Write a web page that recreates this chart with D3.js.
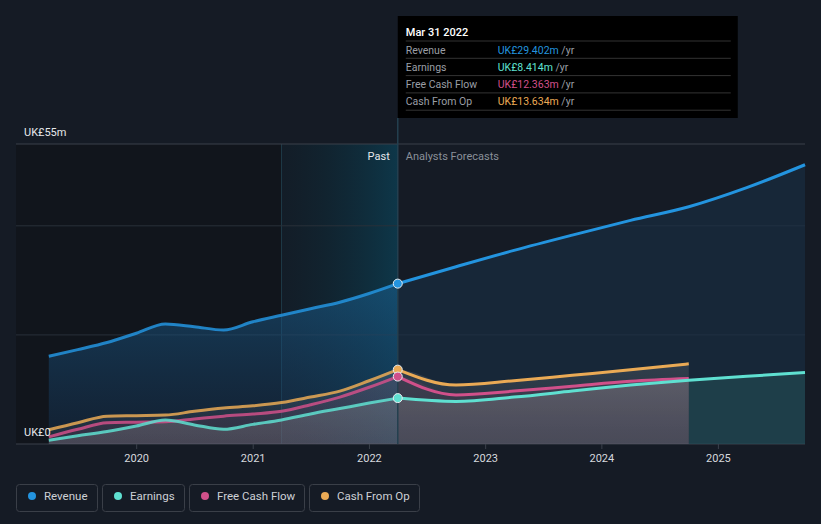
<!DOCTYPE html>
<html>
<head>
<meta charset="utf-8">
<script src="https://cdn.jsdelivr.net/npm/d3@7"></script>
<style>
  body { margin: 0; background: #151b25; }
  svg { display: block; font-family: Roboto, "Noto Sans", sans-serif; }
</style>
</head>
<body>
<div id="chart"></div>
<script>
// quarterly history (UK£m, trailing twelve months)
const pastDates = ["2019-03-31", "2019-06-30", "2019-09-30", "2019-12-31", "2020-03-31", "2020-06-30",
  "2020-09-30", "2020-12-31", "2021-03-31", "2021-06-30", "2021-09-30", "2021-12-31", "2022-03-31"];
const revenuePast = [16.1, 17.3, 18.6, 20.3, 22.0, 21.5, 20.9, 22.4, 23.6, 24.8, 26.0, 27.6, 29.402];
const earningsPast = [0.7, 1.5, 2.3, 3.3, 4.4, 3.5, 2.7, 3.6, 4.4, 5.5, 6.5, 7.5, 8.414];
const fcfPast = [1.3, 2.7, 3.9, 4.0, 4.1, 4.6, 5.1, 5.5, 6.0, 7.2, 8.6, 10.4, 12.363];
const cfoPast = [2.6, 3.9, 5.1, 5.2, 5.3, 6.0, 6.6, 7.0, 7.6, 8.6, 9.7, 11.6, 13.634];

// analyst forecasts
const forecastDates = ["2022-03-31", "2022-09-30", "2023-03-31", "2023-09-30", "2024-03-31",
  "2024-09-30", "2025-03-31", "2025-09-30"];
const revenueFc = [29.402, 32.5, 35.5, 38.3, 41.0, 43.5, 47.0, 51.2];
const earningsFc = [8.414, 7.8, 8.6, 9.7, 10.8, 11.7, 12.4, 13.1];
const fcfFc = [12.363, 9.0, 9.7, 10.6, 11.5, 12.0];
const cfoFc = [13.634, 10.8, 11.6, 12.6, 13.6, 14.7];

const yearTicks = ["2020", "2021", "2022", "2023", "2024", "2025"];
const yTickValues = [0, 20, 40, 55];

const width = 821;
const height = 524;
const parse = d3.timeParse("%Y-%m-%d");

const COLORS = {
  revenue: "#2394df",
  earnings: "#5fe0d1",
  fcf: "#d0508a",
  cfo: "#eaaa55"
};

const x = d3.scaleTime()
  .domain([new Date(2018, 11, 18), new Date(2025, 8, 30)])
  .range([16, 805]);
const y = d3.scaleLinear().domain([0, 55]).range([444, 144]);

const svg = d3.select("#chart").append("svg")
  .attr("width", width)
  .attr("height", height);

svg.append("rect").attr("width", width).attr("height", height).attr("fill", "#151b25");

const defs = svg.append("defs");

// band for the last year of history
const band = defs.append("linearGradient").attr("id", "band");
band.append("stop").attr("offset", "0%").attr("stop-color", "#0c2531").attr("stop-opacity", 0.2);
band.append("stop").attr("offset", "100%").attr("stop-color", "#0d3a4d").attr("stop-opacity", 0.9);

const revGrad = defs.append("linearGradient").attr("id", "revGrad")
  .attr("x1", 0).attr("x2", 0).attr("y1", 0).attr("y2", 1);
revGrad.append("stop").attr("offset", "0%").attr("stop-color", "#1a5f8f").attr("stop-opacity", 0.55);
revGrad.append("stop").attr("offset", "100%").attr("stop-color", "#16365a").attr("stop-opacity", 0.35);

const greyGrad = defs.append("linearGradient").attr("id", "greyGrad")
  .attr("x1", 0).attr("x2", 0).attr("y1", 0).attr("y2", 1);
greyGrad.append("stop").attr("offset", "0%").attr("stop-color", "#9a9a9a").attr("stop-opacity", 0.22);
greyGrad.append("stop").attr("offset", "100%").attr("stop-color", "#7a7a7a").attr("stop-opacity", 0.12);

const xNow = x(parse("2022-03-31"));
const xBand = x(parse("2021-03-31"));

// darker history area
svg.append("rect")
  .attr("x", 16).attr("y", y(55))
  .attr("width", xBand - 16).attr("height", y(0) - y(55))
  .attr("fill", "#11151c");

svg.append("rect")
  .attr("x", xBand).attr("y", y(55))
  .attr("width", xNow - xBand).attr("height", y(0) - y(55))
  .attr("fill", "url(#band)");

svg.append("line")
  .attr("x1", xBand).attr("x2", xBand).attr("y1", y(55)).attr("y2", y(0))
  .attr("stroke", "#1f3a48").attr("stroke-width", 1);

// gridlines
svg.append("g").selectAll("line")
  .data(yTickValues)
  .enter().append("line")
  .attr("x1", 16).attr("x2", 805)
  .attr("y1", d => y(d)).attr("y2", d => y(d))
  .attr("stroke", d => (d === 55 || d === 0) ? "#3b414b" : "#29303a")
  .attr("stroke-width", 1);

const pts = (dates, vals) => dates.map((d, i) => ({ date: parse(d), v: vals[i] }));

const line = d3.line().x(d => x(d.date)).y(d => y(d.v)).curve(d3.curveMonotoneX);
const area = d3.area().x(d => x(d.date)).y0(y(0)).y1(d => y(d.v)).curve(d3.curveMonotoneX);

// revenue areas
svg.append("path").datum(pts(pastDates, revenuePast))
  .attr("d", area).attr("fill", "url(#revGrad)");
svg.append("path").datum(pts(forecastDates, revenueFc))
  .attr("d", area).attr("fill", "#1a3149").attr("opacity", 0.55);

// earnings forecast area beyond the cash flow forecasts
svg.append("path").datum(pts(forecastDates.slice(5), earningsFc.slice(5)))
  .attr("d", area).attr("fill", "#2c6a6a").attr("opacity", 0.35);

// lower series areas
const lower = [
  { past: cfoPast, fc: cfoFc, fill: "url(#greyGrad)", op: 0.9 },
  { past: fcfPast, fc: fcfFc, fill: "#b0507e", op: 0.12 },
  { past: earningsPast, fc: earningsFc.slice(0, 6), fill: "url(#greyGrad)", op: 1.2 }
];
lower.forEach(s => {
  const all = pts(pastDates, s.past).concat(pts(forecastDates.slice(1, s.fc.length), s.fc.slice(1)));
  svg.append("path").datum(all).attr("d", area).attr("fill", s.fill).attr("opacity", Math.min(s.op, 1));
});
// extra grey under earnings
svg.append("path")
  .datum(pts(pastDates, earningsPast).concat(pts(forecastDates.slice(1, 6), earningsFc.slice(1, 6))))
  .attr("d", area).attr("fill", "#8a8d92").attr("opacity", 0.18);

// lines
const series = [
  { past: revenuePast, fc: revenueFc, color: COLORS.revenue },
  { past: cfoPast, fc: cfoFc, color: COLORS.cfo },
  { past: fcfPast, fc: fcfFc, color: COLORS.fcf },
  { past: earningsPast, fc: earningsFc, color: COLORS.earnings }
];
series.forEach(s => {
  svg.append("path").datum(pts(pastDates, s.past))
    .attr("d", line).attr("fill", "none")
    .attr("stroke", s.color).attr("stroke-width", 3).attr("opacity", 0.85);
  svg.append("path").datum(pts(forecastDates.slice(0, s.fc.length), s.fc))
    .attr("d", line).attr("fill", "none")
    .attr("stroke", s.color).attr("stroke-width", 3);
});

// marker line
svg.append("line")
  .attr("x1", xNow).attr("x2", xNow).attr("y1", 118).attr("y2", y(0))
  .attr("stroke", "#24404f").attr("stroke-width", 1.5);

// dots at the tooltip date
const dots = [
  { v: revenuePast[12], color: COLORS.revenue },
  { v: cfoPast[12], color: COLORS.cfo },
  { v: fcfPast[12], color: COLORS.fcf },
  { v: earningsPast[12], color: COLORS.earnings }
];
svg.append("g").selectAll("circle")
  .data(dots)
  .enter().append("circle")
  .attr("cx", xNow).attr("cy", d => y(d.v)).attr("r", 4.5)
  .attr("fill", d => d.color)
  .attr("stroke", "#e8eef2").attr("stroke-width", 1);

// axis
svg.append("g").selectAll("g")
  .data(yearTicks)
  .enter().append("g")
  .each(function(d) {
    const g = d3.select(this);
    const xx = x(parse(d + "-01-01"));
    g.append("line").attr("x1", xx).attr("x2", xx).attr("y1", y(0)).attr("y2", y(0) + 5)
      .attr("stroke", "#3b414b");
    g.append("text").attr("x", xx).attr("y", 462)
      .attr("text-anchor", "middle").attr("fill", "#d6d9de")
      .attr("font-size", 11).text(d);
  });

svg.append("text").attr("x", 24).attr("y", 136)
  .attr("fill", "#e6e8eb").attr("font-size", 11).text("UK£55m");
svg.append("text").attr("x", 24).attr("y", 436)
  .attr("fill", "#e6e8eb").attr("font-size", 11).text("UK£0");

svg.append("text").attr("x", xNow - 8).attr("y", 160)
  .attr("text-anchor", "end").attr("fill", "#e6e8eb").attr("font-size", 11).text("Past");
svg.append("text").attr("x", xNow + 8).attr("y", 160)
  .attr("fill", "#8a9099").attr("font-size", 11).text("Analysts Forecasts");

// tooltip
const tip = svg.append("g").attr("transform", `translate(${xNow},16)`);
tip.append("rect").attr("width", 340).attr("height", 102).attr("fill", "#000");
tip.append("text").attr("x", 8).attr("y", 20)
  .attr("fill", "#fff").attr("font-size", 11).attr("font-weight", 500).text("Mar 31 2022");
const tipRows = [
  { label: "Revenue", value: "UK£29.402m", color: COLORS.revenue },
  { label: "Earnings", value: "UK£8.414m", color: COLORS.earnings },
  { label: "Free Cash Flow", value: "UK£12.363m", color: COLORS.fcf },
  { label: "Cash From Op", value: "UK£13.634m", color: COLORS.cfo }
];
tipRows.forEach((r, i) => {
  const top = 25 + i * 17.3;
  tip.append("line").attr("x1", 8).attr("x2", 333).attr("y1", top).attr("y2", top)
    .attr("stroke", "#333").attr("stroke-width", 1);
  tip.append("text").attr("x", 8).attr("y", top + 12.5)
    .attr("fill", "#9a9ea5").attr("font-size", 10.5).text(r.label);
  const t = tip.append("text").attr("x", 100).attr("y", top + 12.5).attr("font-size", 10.5);
  t.append("tspan").attr("fill", r.color).text(r.value);
  t.append("tspan").attr("fill", "#9a9ea5").text(" /yr");
});
tip.append("line").attr("x1", 8).attr("x2", 333).attr("y1", 25 + 4 * 17.3).attr("y2", 25 + 4 * 17.3)
  .attr("stroke", "#333");

// legend
const legendItems = [
  { label: "Revenue", color: COLORS.revenue, w: 81 },
  { label: "Earnings", color: COLORS.earnings, w: 82 },
  { label: "Free Cash Flow", color: COLORS.fcf, w: 115 },
  { label: "Cash From Op", color: COLORS.cfo, w: 110 }
];
let lx = 16;
legendItems.forEach(item => {
  const g = svg.append("g").attr("transform", `translate(${lx},484)`);
  g.append("rect").attr("x", 0.5).attr("y", 0.5).attr("width", item.w).attr("height", 27)
    .attr("rx", 3).attr("fill", "none").attr("stroke", "#3a3f48");
  g.append("circle").attr("cx", 16).attr("cy", 12).attr("r", 4).attr("fill", item.color);
  g.append("text").attr("x", 28).attr("y", 16).attr("fill", "#cdd0d5")
    .attr("font-size", 11.5).text(item.label);
  lx += item.w + 5;
});
</script>
</body>
</html>
